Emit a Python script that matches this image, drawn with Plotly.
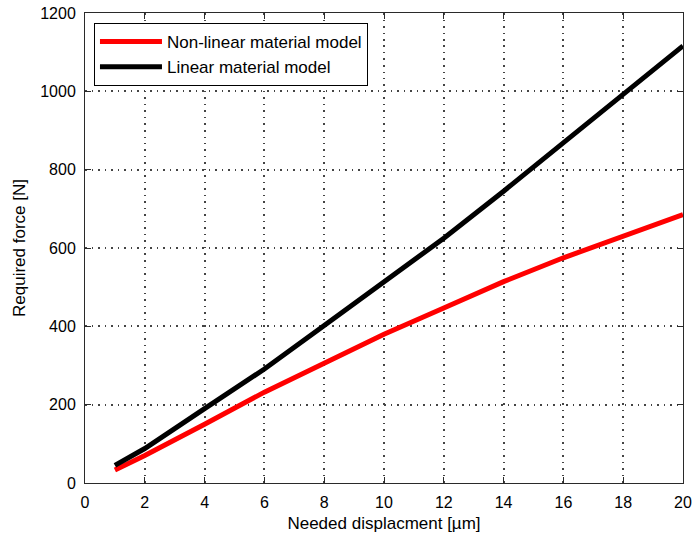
import plotly.graph_objects as go

# Needed displacement [µm] and required force [N] for both material models
displacement = [1, 2, 4, 6, 8, 10, 12, 14, 16, 18, 20]
force_nonlinear = [33, 70, 150, 232, 306, 380, 447, 514, 575, 630, 685]
force_linear = [45, 88, 190, 291, 402, 512, 625, 745, 868, 995, 1116]

x_ticks = [0, 2, 4, 6, 8, 10, 12, 14, 16, 18, 20]
y_ticks = [0, 200, 400, 600, 800, 1000, 1200]

FONT = "Liberation Sans"
TICK_SIZE = 16
TEXT_SIZE = 17

fig = go.Figure()
fig.add_trace(go.Scatter(
    x=displacement, y=force_nonlinear, mode="lines",
    name="Non-linear material model", legendgroup="a",
    line=dict(color="#ff0000", width=5),
))
fig.add_trace(go.Scatter(
    x=displacement, y=force_linear, mode="lines",
    name="Linear material model", legendgroup="b",
    line=dict(color="#000000", width=5),
))

axis_common = dict(
    showline=True, linecolor="#2a2a2a", linewidth=1, mirror="ticks",
    ticks="inside", ticklen=6, tickcolor="#2a2a2a",
    showgrid=True, gridcolor="#444444", gridwidth=1.5, griddash="1.5px,5px",
    zeroline=False, automargin=False,
    ticklabelstandoff=5,
    tickfont=dict(family=FONT, size=TICK_SIZE, color="#000000"),
)

fig.update_xaxes(
    range=[0, 20], tickvals=x_ticks,
    title=dict(text="Needed displacment [µm]", font=dict(family=FONT, size=TEXT_SIZE, color="#000000"), standoff=6),
    **axis_common,
)
fig.update_yaxes(
    range=[0, 1200], tickvals=y_ticks,
    title=dict(text="Required force [N]", font=dict(family=FONT, size=TEXT_SIZE, color="#000000"), standoff=10),
    **axis_common,
)

fig.update_layout(
    width=692, height=539,
    margin=dict(l=85, r=9, t=13, b=56),
    paper_bgcolor="#ffffff", plot_bgcolor="#ffffff",
    font=dict(family=FONT, size=TEXT_SIZE, color="#000000"),
    showlegend=True,
    legend=dict(
        x=0.015, y=0.9787, xanchor="left", yanchor="top",
        bgcolor="#ffffff", bordercolor="#000000", borderwidth=1,
        font=dict(family=FONT, size=TEXT_SIZE, color="#000000"),
        itemwidth=62, traceorder="grouped", tracegroupgap=0,
    ),
)

fig.write_html("out.html")
